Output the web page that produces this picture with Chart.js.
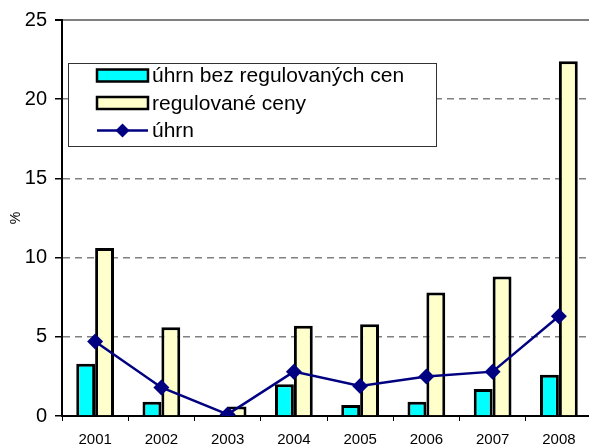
<!DOCTYPE html>
<html><head><meta charset="utf-8">
<script src="https://cdn.jsdelivr.net/npm/chart.js@4/dist/chart.umd.min.js"></script>
<style>
html,body{margin:0;padding:0;background:#fff;overflow:hidden;width:589px;height:445px;}
#wrap{position:relative;width:600px;height:445px;}
</style></head>
<body><div id="wrap"><canvas id="c" width="600" height="445"></canvas></div>
<script>
const categories = ['2001','2002','2003','2004','2005','2006','2007','2008'];
const seriesNames = ['úhrn bez regulovaných cen','regulované ceny','úhrn'];
const bezRegulovanych = [3.3, 0.9, 0.0, 2.0, 0.7, 0.9, 1.7, 2.6];
const regulovaneCeny = [10.6, 5.6, 0.6, 5.7, 5.8, 7.8, 8.8, 22.4];
const uhrn = [4.7, 1.8, 0.1, 2.8, 1.9, 2.5, 2.8, 6.3];
const yTicks = [0, 5, 10, 15, 20, 25];
const yTitle = '%';

const FONT = "'Liberation Sans', Arial, sans-serif";

const legendPlugin = {
  id: 'boxLegend',
  afterDatasetsDraw(chart) {
    const ctx = chart.ctx, ca = chart.chartArea;
    const x0 = ca.left + 6, y0 = ca.top + 43, w = 368, h = 83;
    ctx.save();
    ctx.fillStyle = '#fff';
    ctx.fillRect(x0, y0, w, h);
    ctx.strokeStyle = '#333';
    ctx.lineWidth = 1;
    ctx.strokeRect(x0 + 0.5, y0 + 0.5, w, h);
    ctx.font = '21px ' + FONT;
    ctx.textBaseline = 'middle';
    ctx.fillStyle = '#000';
    const rows = [y0 + 12.5, y0 + 40, y0 + 67.5];
    chart.data.datasets.forEach((ds, i) => {
      const cy = rows[i];
      const sx = x0 + 29, sw = 51;
      if (ds.type === 'line') {
        ctx.strokeStyle = ds.borderColor; ctx.lineWidth = 2.5;
        ctx.beginPath(); ctx.moveTo(sx, cy); ctx.lineTo(sx + sw, cy); ctx.stroke();
        ctx.fillStyle = ds.pointBackgroundColor;
        const r = 7, cx = sx + sw / 2;
        ctx.beginPath(); ctx.moveTo(cx, cy - r); ctx.lineTo(cx + r, cy); ctx.lineTo(cx, cy + r); ctx.lineTo(cx - r, cy); ctx.closePath(); ctx.fill();
      } else {
        ctx.fillStyle = ds.backgroundColor;
        ctx.fillRect(sx, cy - 6, sw, 12);
        ctx.strokeStyle = '#000'; ctx.lineWidth = 2.5;
        ctx.strokeRect(sx, cy - 6, sw, 12);
      }
      ctx.fillStyle = '#000';
      ctx.fillText(ds.label, sx + sw + 4, cy + 1);
    });
    ctx.restore();
  }
};

new Chart(document.getElementById('c'), {
  data: {
    labels: categories,
    datasets: [
      { type: 'bar', label: seriesNames[0], data: bezRegulovanych, backgroundColor: '#00FFFF', borderColor: '#000', borderWidth: 3, categoryPercentage: 0.57, barPercentage: 1, order: 2 },
      { type: 'bar', label: seriesNames[1], data: regulovaneCeny, backgroundColor: '#FFFFCC', borderColor: '#000', borderWidth: 3, categoryPercentage: 0.57, barPercentage: 1, order: 2 },
      { type: 'line', label: seriesNames[2], data: uhrn, borderColor: '#000080', backgroundColor: '#000080', pointBackgroundColor: '#000080', pointBorderColor: '#000080', borderWidth: 2.5, pointStyle: 'rectRot', pointRadius: 8, pointBorderWidth: 0, tension: 0, order: 1 }
    ]
  },
  options: {
    responsive: false,
    animation: false,
    layout: { padding: { top: 8, right: 5, left: 0, bottom: 0 } },
    plugins: { legend: { display: false }, tooltip: { enabled: false } },
    scales: {
      x: {
        offset: true,
        grid: { display: true, offset: true, drawOnChartArea: false, drawTicks: true, tickLength: 5, color: '#000', tickColor: '#000' },
        border: { display: true, color: '#000', width: 2 },
        ticks: { color: '#000', font: { family: FONT, size: 15 }, padding: 10, maxRotation: 0 },
        afterFit: s => { s.height = 29; }
      },
      y: {
        min: 0, max: 25,
        afterBuildTicks: s => { s.ticks = yTicks.map(v => ({ value: v })); },
        grid: {
          color: c => c.tick && c.tick.value === 0 ? 'rgba(0,0,0,0)' : '#808080',
          lineWidth: c => c.tick && c.tick.value === 25 ? 2 : 1.5,
          tickColor: '#000', tickLength: 7, drawTicks: true
        },
        border: { display: true, color: '#000', width: 2, dash: c => c.tick && c.tick.value === 25 ? [] : [7, 5] },
        ticks: { color: '#000', font: { family: FONT, size: 20 }, padding: 8 },
        title: { display: true, text: yTitle, color: '#000', font: { family: FONT, size: 14 }, padding: { top: 8, bottom: 0 } },
        afterFit: s => { s.width = 62; }
      }
    }
  },
  plugins: [legendPlugin]
});
</script></body></html>
